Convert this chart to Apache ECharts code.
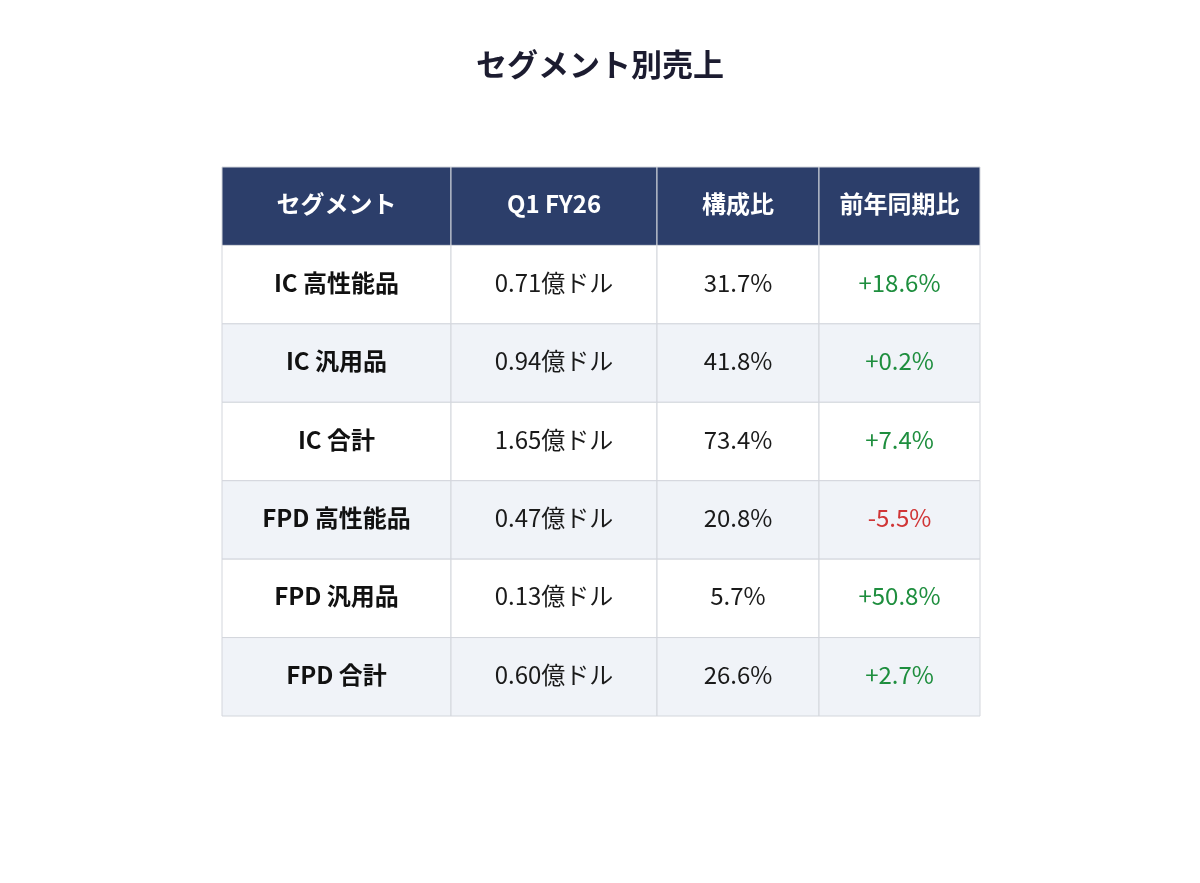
<!DOCTYPE html>
<html>
<head>
<meta charset="utf-8">
<script src="https://cdn.jsdelivr.net/npm/echarts@6/dist/echarts.min.js"></script>
<style>
  html, body { margin: 0; padding: 0; background: #ffffff; }
  #main { width: 1200px; height: 883px; }
</style>
</head>
<body>
<div id="main"></div>
<script>
(function() {
  var headers = ['セグメント', 'Q1 FY26', '構成比', '前年同期比'];
  var segments = ['IC 高性能品', 'IC 汎用品', 'IC 合計', 'FPD 高性能品', 'FPD 汎用品', 'FPD 合計'];
  var sales = [0.71, 0.94, 1.65, 0.47, 0.13, 0.60];
  var shares = [31.7, 41.8, 73.4, 20.8, 5.7, 26.6];
  var yoy = [18.6, 0.2, 7.4, -5.5, 50.8, 2.7];

  // column edges as fraction of table width
  var colEdges = [0, 229 / 758, 435 / 758, 597 / 758, 1];

  var FONT = '"Noto Sans CJK JP", "Noto Sans", sans-serif';

  function fmtSigned(v) {
    return (v >= 0 ? '+' : '') + v.toFixed(1) + '%';
  }

  var cells = [];
  headers.forEach(function(h, c) {
    cells.push([c, 0, h, 'head']);
  });
  segments.forEach(function(name, i) {
    var r = i + 1;
    cells.push([0, r, name, 'name']);
    cells.push([1, r, sales[i].toFixed(2) + '億ドル', 'val']);
    cells.push([2, r, shares[i].toFixed(1) + '%', 'val']);
    cells.push([3, r, fmtSigned(yoy[i]), yoy[i] >= 0 ? 'up' : 'down']);
  });

  function renderItem(params, api) {
    var c = api.value(0);
    var r = api.value(1);
    var kind = cells[params.dataIndex][3];
    var text = cells[params.dataIndex][2];
    var p0 = api.coord([colEdges[c], r]);
    var p1 = api.coord([colEdges[c + 1], r + 1]);
    var x = p0[0], y = p0[1], w = p1[0] - p0[0], h = p1[1] - p0[1];
    var fill;
    if (kind === 'head') fill = '#2c3e6a';
    else fill = (r % 2 === 0) ? '#f0f3f8' : '#ffffff';
    var color = '#1a1a1a';
    var weight = 'normal';
    if (kind === 'head') { color = '#ffffff'; weight = 'bold'; }
    if (kind === 'name') { weight = 'bold'; color = '#111111'; }
    if (kind === 'up') color = '#1e8e3e';
    if (kind === 'down') color = '#d03536';
    return {
      type: 'group',
      children: [{
        type: 'rect',
        shape: { x: x, y: y, width: w, height: h },
        style: { fill: fill, stroke: '#d3d6dc', lineWidth: 1 }
      }, {
        type: 'text',
        style: {
          x: x + w / 2,
          y: y + h / 2 - 2,
          text: text,
          align: 'center',
          verticalAlign: 'middle',
          fill: color,
          fontSize: 24,
          fontWeight: weight,
          fontFamily: FONT
        }
      }]
    };
  }

  var myChart = echarts.init(document.getElementById('main'));
  var option = {
    backgroundColor: '#ffffff',
    animation: false,
    title: {
      text: 'セグメント別売上',
      left: 'center',
      top: 44,
      textStyle: {
        fontSize: 31,
        fontWeight: 'bold',
        color: '#1c1c30',
        fontFamily: FONT
      }
    },
    grid: { left: 222, top: 167, width: 758, height: 549 },
    xAxis: { type: 'value', min: 0, max: 1, show: false },
    yAxis: { type: 'value', min: 0, max: 7, inverse: true, show: false },
    series: [{
      type: 'custom',
      renderItem: renderItem,
      data: cells.map(function(d) { return [d[0], d[1]]; })
    }]
  };
  myChart.setOption(option);
})();
</script>
</body>
</html>
